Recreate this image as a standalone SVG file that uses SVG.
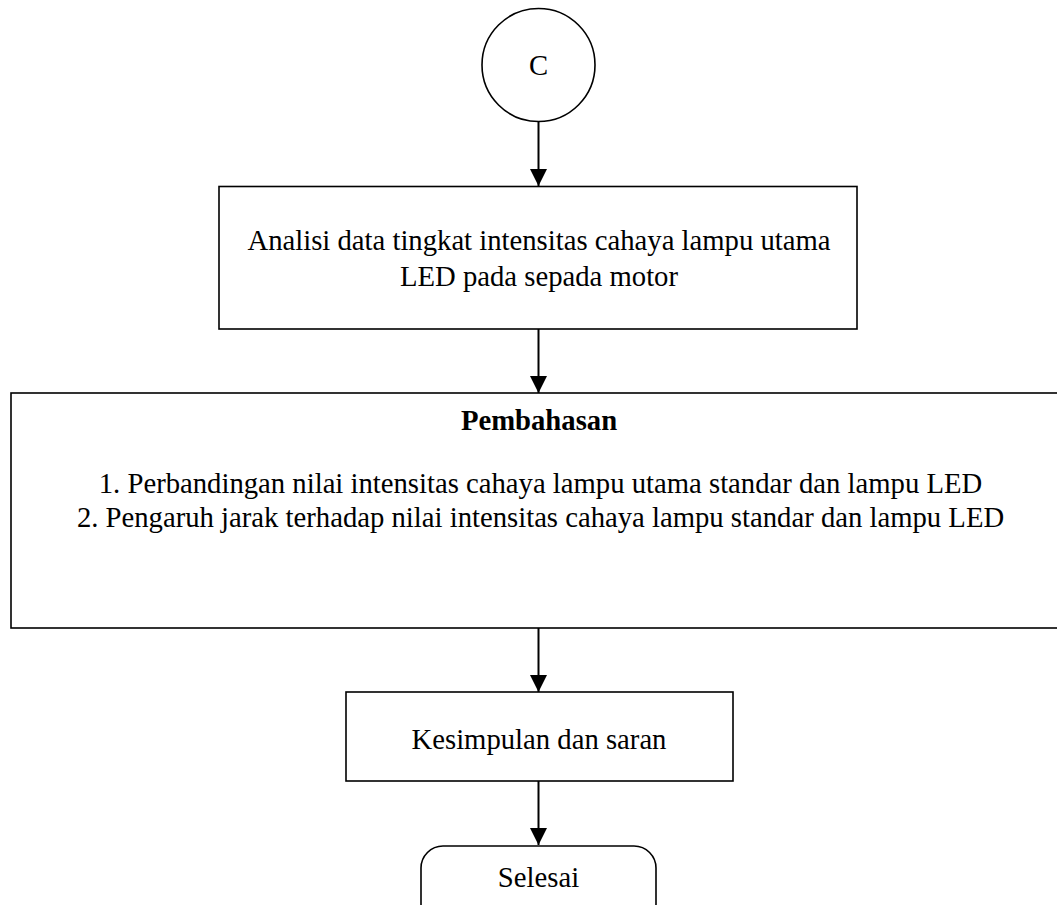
<svg xmlns="http://www.w3.org/2000/svg" width="1057" height="905" viewBox="0 0 1057 905">
<style>
.s{fill:#fff;stroke:#000;stroke-width:1.6}
.t{font-family:"Liberation Serif","Times New Roman",serif;font-size:28.7px;fill:#000;text-anchor:middle}
.b{font-weight:bold}
.c{stroke:#000;stroke-width:2;fill:none}
</style>
<defs>
<marker id="ah" markerWidth="17" markerHeight="17" refX="17" refY="8.5" orient="auto" markerUnits="userSpaceOnUse">
<path d="M0,0 L17,8.5 L0,17 Z" fill="#000"/>
</marker>
</defs>
<rect width="1057" height="905" fill="#fff"/>
<g id="connectors">
<line class="c" x1="538.5" y1="122" x2="538.5" y2="186" marker-end="url(#ah)"/>
<line class="c" x1="538.5" y1="329" x2="538.5" y2="393" marker-end="url(#ah)"/>
<line class="c" x1="538.5" y1="628" x2="538.5" y2="692" marker-end="url(#ah)"/>
<line class="c" x1="538.5" y1="781" x2="538.5" y2="845" marker-end="url(#ah)"/>
</g>
<g id="nodeC">
<circle class="s" cx="538.5" cy="65" r="56.5"/>
<text class="t" x="538.5" y="75">C</text>
</g>
<g id="analisis">
<rect class="s" x="219" y="186.5" width="638" height="142.5"/>
<text class="t" x="539" y="250">Analisi data tingkat intensitas cahaya lampu utama</text>
<text class="t" x="539" y="286">LED pada sepada motor</text>
</g>
<g id="pembahasan">
<rect class="s" x="11" y="393" width="1070" height="235"/>
<text class="t b" x="539" y="430">Pembahasan</text>
<text class="t" x="540.5" y="493">1. Perbandingan nilai intensitas cahaya lampu utama standar dan lampu LED</text>
<text class="t" x="540.5" y="527">2. Pengaruh jarak terhadap nilai intensitas cahaya lampu standar dan lampu LED</text>
</g>
<g id="kesimpulan">
<rect class="s" x="346" y="692" width="387" height="89"/>
<text class="t" x="539" y="749">Kesimpulan dan saran</text>
</g>
<g id="selesai">
<rect class="s" x="421" y="846" width="235" height="80" rx="22"/>
<text class="t" x="538.5" y="887">Selesai</text>
</g>
</svg>
